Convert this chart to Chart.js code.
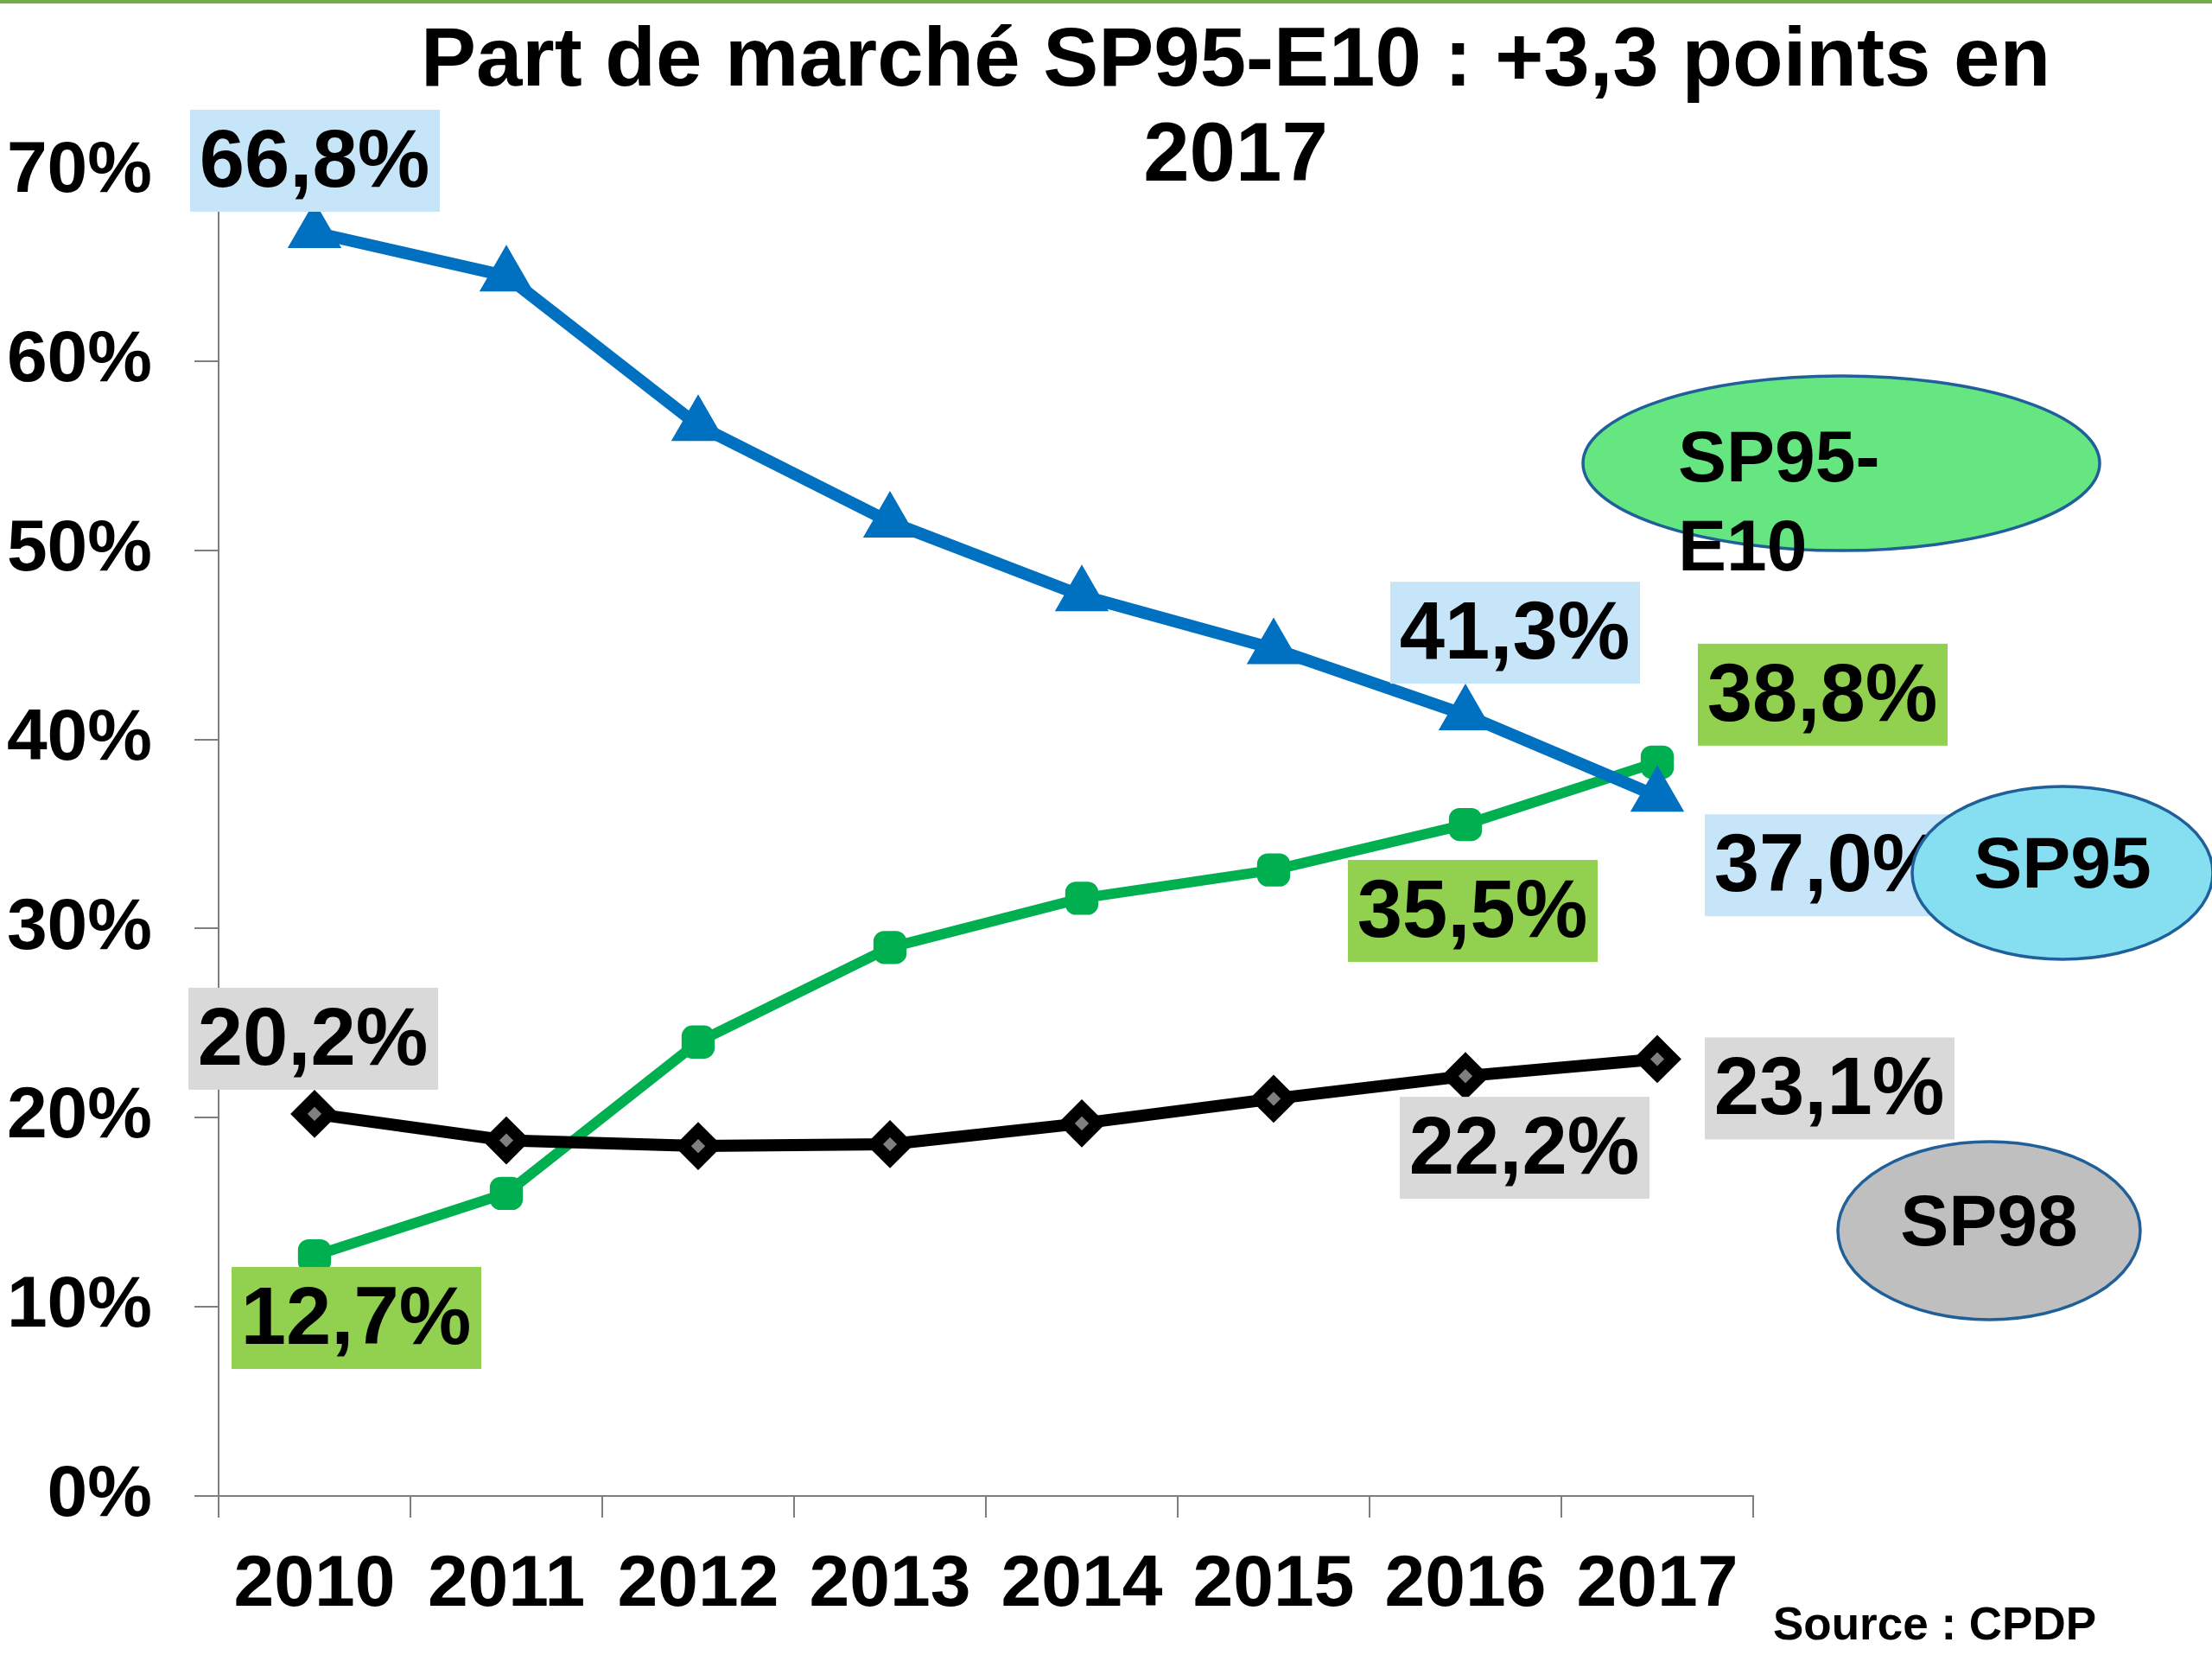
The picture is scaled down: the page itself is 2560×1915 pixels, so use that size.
<!DOCTYPE html>
<html>
<head>
<meta charset="utf-8">
<script src="https://cdn.jsdelivr.net/npm/chart.js@4"></script>
<style>
  html, body { margin: 0; padding: 0; background: #fff; }
  canvas { display: block; }
</style>
</head>
<body>
<canvas id="chart" width="2560" height="1915"></canvas>
<script>
// data (market share, %)
const years = ['2010', '2011', '2012', '2013', '2014', '2015', '2016', '2017']
const sp95 = [66.8, 64.5, 56.6, 51.5, 47.6, 44.8, 41.3, 37.0]
const sp95e10 = [12.7, 16.0, 24.0, 29.0, 31.6, 33.1, 35.5, 38.8]
const sp98 = [20.2, 18.8, 18.5, 18.6, 19.7, 21.0, 22.2, 23.1]

const FONT = "'Liberation Sans', Arial, sans-serif"

// value labels: dataset, point index, offset from the point, box colour
const valueLabels = [
    { ds: 0, i: 0, dx: 0, dy: -83, bg: '#C7E5F9' },
    { ds: 0, i: 6, dx: 57, dy: -95, bg: '#C7E5F9' },
    { ds: 0, i: 7, dx: 199, dy: 80, bg: '#C7E5F9' },
    { ds: 1, i: 0, dx: 48, dy: 72, bg: '#92D050' },
    { ds: 1, i: 6, dx: 8, dy: 100, bg: '#92D050' },
    { ds: 1, i: 7, dx: 191, dy: -78, bg: '#92D050' },
    { ds: 2, i: 0, dx: -2, dy: -87, bg: '#D9D9D9' },
    { ds: 2, i: 6, dx: 68, dy: 83, bg: '#D9D9D9' },
    { ds: 2, i: 7, dx: 199, dy: 34, bg: '#D9D9D9' },
]

const fmt = v => v.toFixed(1).replace('.', ',') + '%'

function ellipse(ctx, cx, cy, rx, ry, fill) {
    ctx.beginPath()
    ctx.ellipse(cx, cy, rx, ry, 0, 0, Math.PI * 2)
    ctx.fillStyle = fill
    ctx.fill()
    ctx.lineWidth = 3.5
    ctx.strokeStyle = '#1F5F9A'
    ctx.stroke()
}

const decorations = {
    id: 'decorations',
    beforeDraw(chart) {
        const ctx = chart.ctx
        ctx.save()
        ctx.fillStyle = '#fff'
        ctx.fillRect(0, 0, chart.width, chart.height)
        // green line along the top edge
        ctx.fillStyle = '#70AD47'
        ctx.fillRect(0, 0, chart.width, 4)
        // title
        ctx.fillStyle = '#000'
        ctx.font = 'bold 96px ' + FONT
        ctx.textAlign = 'center'
        ctx.textBaseline = 'alphabetic'
        ctx.fillText('Part de marché SP95-E10 : +3,3 points en', 1430, 99)
        ctx.fillText('2017', 1430, 209)
        // source
        ctx.font = 'bold 53px ' + FONT
        ctx.textAlign = 'left'
        ctx.fillText('Source : CPDP', 2052, 1897)
        ctx.restore()
    },
    afterDatasetsDraw(chart) {
        const ctx = chart.ctx
        ctx.save()
        ctx.font = 'bold 94px ' + FONT
        ctx.textAlign = 'center'
        ctx.textBaseline = 'middle'
        valueLabels.forEach(l => {
            const pt = chart.getDatasetMeta(l.ds).data[l.i]
            const v = chart.data.datasets[l.ds].data[l.i]
            const cx = pt.x + l.dx
            const cy = pt.y + l.dy
            ctx.fillStyle = l.bg
            ctx.fillRect(cx - 144, cy - 59, 289, 118)
            ctx.fillStyle = '#000'
            ctx.fillText(fmt(v), cx, cy + 4)
        })

        // series name bubbles
        ctx.font = 'bold 84px ' + FONT
        ellipse(ctx, 2131, 536, 299, 101, '#66E680')
        ctx.fillStyle = '#000'
        ctx.textAlign = 'left'
        ctx.textBaseline = 'alphabetic'
        ctx.fillText('SP95-', 1942, 557)
        ctx.fillText('E10', 1942, 660)

        ellipse(ctx, 2387, 1010, 174, 100, '#86DFF0')
        ctx.fillStyle = '#000'
        ctx.textAlign = 'center'
        ctx.textBaseline = 'middle'
        ctx.fillText('SP95', 2387, 1004)

        ellipse(ctx, 2302, 1424, 175, 103, '#BFBFBF')
        ctx.fillStyle = '#000'
        ctx.fillText('SP98', 2302, 1418)
        ctx.restore()
    },
}

const lineConfig = {
    type: 'line',
    data: {
        labels: years,
        datasets: [
            {
                label: 'SP95',
                data: sp95,
                borderColor: '#0070C0',
                backgroundColor: '#0070C0',
                borderWidth: 14,
                pointStyle: 'triangle',
                pointRadius: 30,
                pointBorderWidth: 6,
                order: 0,
            },
            {
                label: 'SP95-E10',
                data: sp95e10,
                borderColor: '#00B050',
                backgroundColor: '#00B050',
                borderWidth: 12,
                pointStyle: 'rectRounded',
                pointRadius: 20,
                pointBorderWidth: 4,
                order: 2,
            },
            {
                label: 'SP98',
                data: sp98,
                borderColor: '#000',
                backgroundColor: '#7F7F7F',
                borderWidth: 14,
                pointStyle: 'rectRot',
                pointRadius: 18,
                pointBorderWidth: 14,
                order: 1,
            },
        ],
    },
    options: {
        responsive: false,
        animation: false,
        devicePixelRatio: 1,
        layout: {
            padding: { top: 199, right: 531, bottom: 0, left: 0 },
        },
        plugins: {
            legend: { display: false },
            tooltip: { enabled: false },
        },
        elements: {
            line: { tension: 0, borderJoinStyle: 'round' },
            point: { borderJoinStyle: 'round' },
        },
        scales: {
            x: {
                offset: true,
                grid: {
                    offset: true,
                    drawOnChartArea: false,
                    drawTicks: true,
                    tickLength: 25,
                    color: '#7F7F7F',
                    lineWidth: 2,
                },
                border: { display: true, color: '#7F7F7F', width: 2 },
                ticks: {
                    color: '#000',
                    padding: 28,
                    font: { family: FONT, size: 84, weight: 'bold' },
                    maxRotation: 0,
                    autoSkip: false,
                },
                afterFit: scale => { scale.height = 184 },
            },
            y: {
                min: 0,
                max: 70,
                grid: {
                    drawOnChartArea: false,
                    drawTicks: true,
                    tickLength: 28,
                    color: '#7F7F7F',
                    lineWidth: 2,
                },
                border: { display: true, color: '#7F7F7F', width: 2 },
                ticks: {
                    stepSize: 10,
                    color: '#000',
                    padding: 49,
                    font: { family: FONT, size: 84, weight: 'bold' },
                    callback: v => v + '%',
                },
                afterFit: scale => { scale.width = 253 },
            },
        },
    },
    plugins: [decorations],
}

const chartCtx = document.getElementById('chart')
window.myLine = new Chart(chartCtx, lineConfig)
</script>
</body>
</html>
